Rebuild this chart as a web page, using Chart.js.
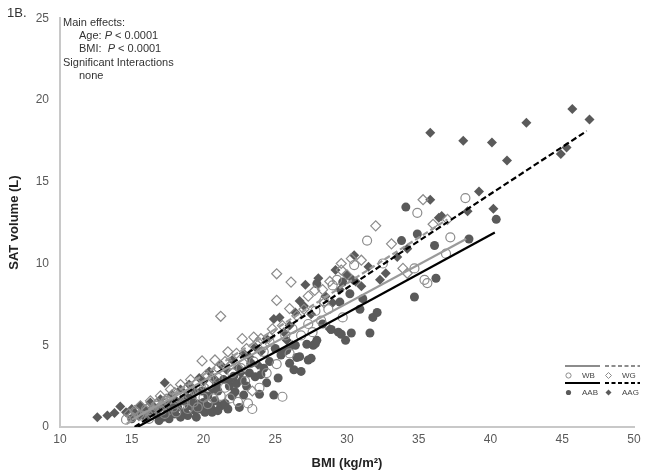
<!DOCTYPE html>
<html>
<head>
<meta charset="utf-8">
<script src="https://cdn.jsdelivr.net/npm/chart.js@4/dist/chart.umd.min.js"></script>
<style>
  html, body { margin: 0; padding: 0; background: #fff; }
  #wrap { width: 651px; height: 475px; }
</style>
</head>
<body>
<div id="wrap"><canvas id="c" width="651" height="475"></canvas></div>
<script>
const xTicks = [10, 15, 20, 25, 30, 35, 40, 45, 50]
const yTicks = [0, 5, 10, 15, 20, 25]
const groups = ['WB', 'WG', 'AAB', 'AAG']
const annotation = ['Main effects:', 'Age:', 'BMI:', 'Significant Interactions', 'none']

// [BMI, SAT volume]
const wbPoints = [
  [14.6,0.45],[15.0,0.6],[15.3,0.9],[15.7,0.7],[16.0,1.1],[16.4,0.8],[16.8,1.3],[17.1,1.0],[17.5,1.6],[17.9,1.2],
  [18.3,1.8],[18.6,1.4],[19.0,2.0],[19.3,1.5],[19.7,2.3],[20.0,1.8],[20.4,2.6],[20.7,1.75],[21.0,3.0],[21.5,2.4],
  [21.85,1.75],[22.0,3.3],[22.4,1.54],[22.6,3.6],[23.1,1.44],[23.4,1.1],[23.5,4.0],[23.9,2.4],[24.2,4.6],[24.6,5.2],
  [25.1,3.85],[25.5,1.85],[25.7,5.6],[26.2,6.0],[26.8,5.6],[27.3,6.3],[27.8,7.1],[28.4,7.7],[28.7,7.2],[29.0,8.66],
  [29.3,9.0],[29.7,6.7],[30.5,9.9],[31.4,11.4],[32.5,10.0],[34.7,9.7],[34.9,13.1],[35.4,9.0],[35.6,8.8],[36.9,10.6],
  [37.2,11.6],[38.25,14.0],[16.2,0.5],[17.3,0.8],[18.1,0.9],[18.9,1.1],[19.6,1.2],[20.3,1.4],[21.2,1.9],[22.9,2.8],
  [24.4,3.3],[26.0,4.5],[27.6,5.8],[28.2,6.5]
]
const wgPoints = [
  [14.8,0.8],[15.2,1.0],[15.6,1.3],[16.0,1.0],[16.3,1.6],[16.7,1.4],[17.0,1.9],[17.4,1.7],[17.7,2.3],[18.0,2.1],
  [18.4,2.6],[18.8,2.3],[19.1,2.9],[19.5,2.7],[19.9,4.04],[20.2,3.2],[20.6,3.0],[21.0,3.6],[21.2,6.77],[21.5,4.0],
  [21.9,3.8],[22.3,4.5],[22.7,5.4],[23.0,4.8],[23.4,2.2],[23.5,5.5],[24.0,5.4],[24.3,5.0],[24.6,5.5],[25.1,7.74],
  [25.1,9.37],[25.5,6.2],[26.0,7.24],[26.1,8.86],[26.5,6.8],[27.0,7.2],[27.75,8.35],[28.3,8.4],[28.8,8.9],[29.6,9.6],
  [29.6,10.0],[30.3,10.3],[31.0,10.2],[32.0,12.3],[33.1,11.2],[33.9,9.7],[34.2,9.4],[35.3,13.9],[36.0,12.4],[37.0,12.7],
  [15.5,0.7],[16.5,1.1],[17.2,1.3],[18.2,1.8],[19.3,2.2],[20.0,2.5],[20.8,4.1],[21.7,4.6],[22.8,3.9],[23.8,5.2],
  [24.8,6.0],[27.3,8.0],[28.4,7.6],[30.0,9.3]
]
const aabPoints = [
  [15.0,0.5],[15.5,0.7],[16.0,0.6],[16.3,1.0],[16.7,0.8],[17.0,1.2],[17.2,0.6],[17.5,1.0],[17.8,1.4],[18.0,0.8],
  [18.2,1.2],[18.5,1.6],[18.7,0.9],[19.0,1.3],[19.2,1.8],[19.4,1.0],[19.6,1.4],[19.8,1.1],[20.0,1.5],[20.1,0.9],
  [20.3,1.9],[20.5,1.2],[20.8,1.6],[21.0,2.2],[21.2,1.3],[21.5,1.44],[21.8,2.5],[22.0,1.9],[22.2,2.15],[22.3,2.66],
  [22.7,2.87],[22.8,1.95],[23.2,3.3],[23.6,3.07],[23.9,2.0],[24.2,3.6],[24.6,4.0],[24.9,1.95],[25.2,3.0],[25.4,4.4],
  [25.8,4.7],[26.0,3.9],[26.5,4.25],[26.8,3.4],[27.2,5.06],[27.3,4.1],[27.5,4.2],[27.65,5.0],[27.8,5.1],[27.9,5.3],
  [27.9,8.76],[28.3,6.3],[28.9,5.96],[29.4,5.8],[29.5,7.64],[29.6,5.67],[29.7,8.86],[29.9,5.3],[30.2,8.15],[30.3,5.75],
  [30.9,7.2],[31.1,7.85],[31.6,5.75],[31.8,6.7],[32.1,7.0],[33.8,11.4],[34.1,13.45],[34.7,7.95],[34.9,11.8],[36.1,11.1],
  [36.2,9.1],[38.5,11.5],[40.4,12.7],[17.6,0.5],[18.9,0.7],[19.5,0.6],[20.6,0.9],[21.0,1.0],[19.9,2.2],[18.4,0.6],
  [20.2,1.3],[21.7,1.1],[22.5,1.2],[16.9,0.4],[19.1,1.6],[20.9,2.6],[22.1,3.1],[23.0,2.5],[24.0,3.2],[24.4,2.7],
  [26.3,3.5],[25.0,4.8],[23.3,3.9],[21.4,2.9],[25.6,4.6],[26.4,5.0],[26.7,4.3]
]
const aagPoints = [
  [12.6,0.6],[13.3,0.7],[13.8,0.85],[14.2,1.25],[14.6,0.9],[15.0,1.1],[15.3,0.8],[15.6,1.3],[16.0,1.0],[16.3,1.5],
  [16.6,1.2],[17.0,1.7],[17.3,2.7],[17.5,1.4],[17.8,2.0],[18.1,1.6],[18.4,2.3],[18.8,1.9],[19.0,2.6],[19.4,2.2],
  [19.7,3.0],[20.0,2.8],[20.4,3.4],[20.8,2.9],[21.2,3.8],[21.6,3.5],[22.0,4.1],[22.4,3.6],[22.8,4.5],[23.2,4.3],
  [23.6,4.9],[24.0,4.6],[24.4,5.4],[24.9,6.6],[25.3,6.7],[25.6,5.8],[26.0,6.2],[26.4,7.0],[26.7,7.7],[27.0,7.4],
  [27.1,8.7],[27.5,6.9],[28.0,9.1],[28.5,8.0],[29.0,7.6],[29.5,8.4],[30.0,9.3],[30.4,9.0],[30.5,10.5],[31.0,8.6],
  [31.5,9.8],[32.3,9.0],[32.7,9.4],[33.5,10.4],[34.2,10.9],[35.8,13.9],[35.8,18.0],[36.4,12.8],[36.6,12.9],[38.1,17.5],
  [38.4,13.2],[39.2,14.4],[40.1,17.4],[40.2,13.35],[41.15,16.3],[42.5,18.6],[44.9,16.7],[45.3,17.1],[45.7,19.45],[46.9,18.8],
  [15.8,0.7],[16.8,1.0],[17.9,1.3],[18.6,1.6],[19.2,1.4],[20.6,2.3],[21.8,2.8],[22.6,3.3],[23.8,3.8],[25.8,5.3],
  [26.2,5.0],[28.8,6.0],[30.6,8.9],[29.2,9.6]
]

// fitted lines, start and end
const wbFit = [[15.0,0.45],[38.3,11.5]]
const wgFit = [[14.65,0.2],[37.0,12.7]]
const aabFit = [[15.4,0.0],[40.3,11.9]]
const aagFit = [[15.2,0.0],[46.7,18.1]]

const GRAY = '#8c8c8c'
const DARK = '#5a5a5a'
const FONT = '"Liberation Sans", Arial, sans-serif'

const toXY = arr => arr.map(([x, y]) => ({ x, y }))

function pointSet(label, pts, style, filled) {
  return {
    type: 'scatter', label, data: toXY(pts), order: 2,
    pointStyle: style, pointRadius: style === 'rectRot' ? 5 : 4.5,
    pointBackgroundColor: filled ? DARK : 'rgba(255,255,255,0)',
    pointBorderColor: filled ? DARK : GRAY,
    pointBorderWidth: filled ? 0 : 1.2,
  }
}
function fitSet(label, pts, color, dash) {
  return {
    type: 'line', label, data: toXY(pts), order: 1,
    borderColor: color, borderWidth: 2.2, borderDash: dash,
    pointRadius: 0, fill: false, tension: 0,
  }
}

const overlay = {
  id: 'overlay',
  afterDraw(chart) {
    const { ctx } = chart
    ctx.save()
    ctx.fillStyle = '#333'
    ctx.textBaseline = 'middle'
    ctx.font = '13px ' + FONT
    ctx.fillText('1B.', 7, 13)
    ctx.font = '11px ' + FONT
    ctx.fillText(annotation[0], 63, 23)
    let x = 79
    ctx.fillText(annotation[1] + ' ', x, 36)
    x += ctx.measureText(annotation[1] + ' ').width
    ctx.font = 'italic 11px ' + FONT
    ctx.fillText('P', x, 36)
    ctx.font = '11px ' + FONT
    ctx.fillText(' < 0.0001', x + ctx.measureText('P').width, 36)
    x = 79
    ctx.fillText(annotation[2] + '  ', x, 49)
    x += ctx.measureText(annotation[2] + '  ').width
    ctx.font = 'italic 11px ' + FONT
    ctx.fillText('P', x, 49)
    ctx.font = '11px ' + FONT
    ctx.fillText(' < 0.0001', x + ctx.measureText('P').width, 49)
    ctx.fillText(annotation[3], 63, 63)
    ctx.fillText(annotation[4], 79, 76)

    // legend, bottom right
    const rows = [
      { y: 366, cols: [[565, GRAY, [], 'circle', false, groups[0]], [605, GRAY, [4, 2.5], 'rectRot', false, groups[1]]] },
      { y: 383, cols: [[565, '#000', [], 'circle', true, groups[2]], [605, '#000', [4, 2.5], 'rectRot', true, groups[3]]] },
    ]
    ctx.font = '8px ' + FONT
    rows.forEach(r => {
      r.cols.forEach(([lx, col, dash, style, filled, name]) => {
        ctx.beginPath()
        ctx.setLineDash(dash)
        ctx.strokeStyle = col
        ctx.lineWidth = 2
        ctx.moveTo(lx, r.y); ctx.lineTo(lx + 35, r.y)
        ctx.stroke()
        ctx.setLineDash([])
        const my = r.y + 9.5
        ctx.fillStyle = DARK
        ctx.strokeStyle = GRAY
        ctx.lineWidth = 1
        ctx.beginPath()
        if (style === 'circle') ctx.arc(lx + 3.5, my, 2.6, 0, Math.PI * 2)
        else { ctx.moveTo(lx + 3.5, my - 3); ctx.lineTo(lx + 6.5, my); ctx.lineTo(lx + 3.5, my + 3); ctx.lineTo(lx + 0.5, my); ctx.closePath() }
        if (filled) ctx.fill(); else ctx.stroke()
        ctx.fillStyle = '#444'
        ctx.fillText(name, lx + 17, my)
      })
    })
    ctx.restore()
  }
}

new Chart(document.getElementById('c').getContext('2d'), {
  type: 'scatter',
  data: {
    datasets: [
      pointSet(groups[0], wbPoints, 'circle', false),
      pointSet(groups[1], wgPoints, 'rectRot', false),
      pointSet(groups[2], aabPoints, 'circle', true),
      pointSet(groups[3], aagPoints, 'rectRot', true),
      fitSet(groups[0] + ' fit', wbFit, '#9a9a9a', []),
      fitSet(groups[1] + ' fit', wgFit, '#9a9a9a', [6, 3]),
      fitSet(groups[2] + ' fit', aabFit, '#000', []),
      fitSet(groups[3] + ' fit', aagFit, '#000', [6, 3]),
    ]
  },
  options: {
    responsive: false,
    animation: false,
    devicePixelRatio: 1,
    layout: { padding: { top: 17, right: 17, left: 0, bottom: 0 } },
    plugins: { legend: { display: false }, tooltip: { enabled: false } },
    scales: {
      x: {
        type: 'linear', min: xTicks[0], max: xTicks[xTicks.length - 1],
        afterBuildTicks: s => { s.ticks = xTicks.map(v => ({ value: v })) },
        afterFit: s => { s.height = 48 },
        grid: { display: false, drawTicks: false },
        border: { display: true, color: '#c8c8c8', width: 2 },
        ticks: { color: '#595959', font: { family: FONT, size: 12 }, padding: 5 },
        title: { display: true, text: 'BMI (kg/m²)', color: '#222', font: { family: FONT, size: 13, weight: 'bold' }, padding: { top: 4 } },
      },
      y: {
        type: 'linear', min: yTicks[0], max: yTicks[yTicks.length - 1],
        afterBuildTicks: s => { s.ticks = yTicks.map(v => ({ value: v })) },
        afterFit: s => { s.width = 60 },
        grid: { display: false, drawTicks: false },
        border: { display: true, color: '#c8c8c8', width: 2 },
        ticks: { color: '#595959', font: { family: FONT, size: 12 }, padding: 11 },
        title: { display: true, text: 'SAT volume (L)', color: '#222', font: { family: FONT, size: 13, weight: 'bold' }, padding: { top: 7 } },
      }
    }
  },
  plugins: [overlay]
})
</script>
</body>
</html>
